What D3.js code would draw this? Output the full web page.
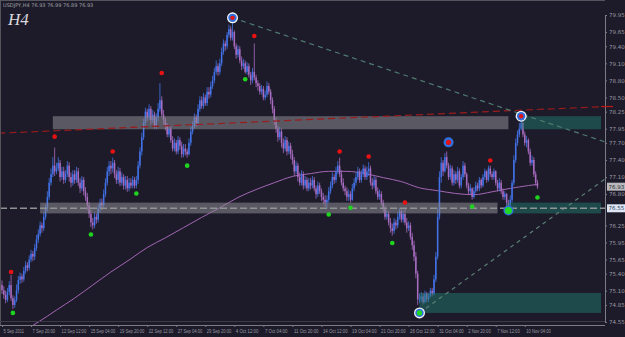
<!DOCTYPE html>
<html>
<head>
<meta charset="utf-8">
<script src="https://cdn.jsdelivr.net/npm/d3@7"></script>
<style>
  body { margin: 0; background: #1d1b29; }
</style>
</head>
<body>
<div id="chart"></div>
<script>
// candle data, H4 bars from 5 Sep 2011
const firstOpen = 75.20
const closes = [
  75.11, 75.03, 74.94, 75.08, 75.20, 74.97, 74.85, 74.94, 75.11, 75.29,
  75.35, 75.30, 75.45, 75.55, 75.50, 75.65, 75.75, 75.70, 75.85, 76.00,
  76.10, 76.25, 76.20, 76.40, 76.55, 76.75, 77.00, 77.15, 77.30, 77.20,
  77.25, 77.35, 77.10, 77.20, 77.05, 77.15, 77.30, 77.10, 77.00, 77.15,
  77.05, 77.20, 77.00, 76.90, 77.05, 76.85, 76.75, 76.60, 76.45, 76.30,
  76.25, 76.40, 76.35, 76.55, 76.65, 76.60, 76.80, 77.00, 77.20, 77.30,
  77.25, 77.35, 77.15, 77.05, 77.20, 77.00, 77.10, 76.95, 77.05, 76.90,
  77.00, 76.95, 77.05, 76.95, 77.05, 77.30, 77.55, 77.80, 78.05, 78.25,
  78.15, 78.30, 78.10, 78.20, 78.00, 78.15, 78.30, 78.45, 78.20, 78.10,
  78.00, 77.85, 77.95, 77.75, 77.60, 77.70, 77.55, 77.75, 77.65, 77.50,
  77.60, 77.55, 77.50, 77.70, 77.90, 78.00, 78.15, 78.05, 78.30, 78.45,
  78.35, 78.50, 78.40, 78.60, 78.55, 78.70, 78.80, 78.95, 79.05, 78.95,
  79.10, 79.30, 79.45, 79.40, 79.60, 79.70, 79.55, 79.65, 79.40, 79.25,
  79.35, 79.15, 79.05, 79.10, 78.95, 79.05, 78.90, 78.80, 78.95, 78.85,
  78.75, 78.70, 78.60, 78.65, 78.50, 78.55, 78.70, 78.60, 78.45, 78.30,
  78.10, 77.95, 77.80, 77.90, 77.70, 77.60, 77.75, 77.55, 77.65, 77.50,
  77.40, 77.20, 77.30, 77.10, 77.00, 77.15, 76.95, 77.05, 76.90, 77.00,
  76.95, 77.05, 76.90, 76.80, 76.95, 76.85, 76.75, 76.70, 76.65, 76.70,
  76.85, 76.95, 77.10, 77.05, 77.20, 77.30, 77.15, 77.00, 76.90, 76.85,
  76.75, 76.80, 76.70, 76.90, 77.00, 77.10, 77.20, 77.05, 77.15, 77.25,
  77.10, 77.20, 77.25, 77.00, 76.95, 77.05, 76.85, 76.75, 76.80, 76.65,
  76.55, 76.40, 76.45, 76.30, 76.20, 76.15, 76.30, 76.25, 76.40, 76.50,
  76.35, 76.45, 76.30, 76.20, 76.25, 76.05, 75.90, 75.70, 75.40, 74.95,
  74.95, 75.00, 74.90, 75.05, 74.95, 75.00, 75.10, 75.05, 75.30, 75.70,
  76.40, 77.10, 77.35, 77.20, 77.45, 77.30, 77.10, 77.25, 77.00, 77.15,
  77.05, 77.20, 76.95, 77.10, 77.30, 77.15, 76.95, 76.85, 76.90, 76.75,
  76.85, 76.95, 76.90, 77.05, 76.95, 77.10, 77.20, 77.05, 77.25, 77.15,
  77.10, 77.20, 77.00, 76.90, 77.00, 76.85, 76.75, 76.80, 76.65, 76.60,
  76.70, 77.00, 77.40, 77.70, 77.85, 77.95, 78.05, 77.85, 77.70, 77.75,
  77.55, 77.35, 77.40, 77.15, 77.00, 76.93
]
const highs = [
  75.28, 75.18, 75.10, 75.15, 75.27, 75.38, 75.02, 75.00, 75.21, 75.36,
  75.42, 75.40, 75.52, 75.62, 75.60, 75.72, 75.82, 75.80, 75.92, 76.08,
  76.18, 76.32, 76.30, 76.48, 76.62, 76.85, 77.08, 77.25, 77.45, 77.62,
  77.35, 77.45, 77.40, 77.28, 77.28, 77.22, 77.38, 77.36, 77.18, 77.22,
  77.22, 77.28, 77.26, 77.08, 77.12, 77.10, 76.92, 76.82, 76.66, 76.52,
  76.38, 76.48, 76.46, 76.62, 76.72, 76.72, 76.88, 77.08, 77.28, 77.38,
  77.38, 77.44, 77.40, 77.22, 77.28, 77.26, 77.18, 77.15, 77.12, 77.12,
  77.08, 77.08, 77.12, 77.10, 77.12, 77.38, 77.62, 77.88, 78.12, 78.32,
  78.30, 78.38, 78.35, 78.28, 78.25, 78.22, 78.40, 78.75, 78.52, 78.28,
  78.15, 78.05, 78.02, 78.00, 77.82, 77.78, 77.75, 77.82, 77.80, 77.72,
  77.68, 77.68, 77.60, 77.78, 77.98, 78.08, 78.22, 78.20, 78.38, 78.52,
  78.52, 78.58, 78.55, 78.68, 78.68, 78.78, 78.88, 79.02, 79.15, 79.10,
  79.18, 79.38, 79.52, 79.50, 79.65, 79.78, 79.75, 79.82, 79.68, 79.45,
  79.42, 79.40, 79.22, 79.18, 79.15, 79.12, 79.10, 78.95, 79.02, 79.45,
  78.90, 78.80, 78.75, 78.72, 78.70, 78.62, 78.78, 78.75, 78.65, 78.50,
  78.35, 78.15, 78.00, 77.98, 77.95, 77.78, 77.82, 77.80, 77.72, 77.70,
  77.58, 77.45, 77.38, 77.35, 77.18, 77.22, 77.20, 77.12, 77.10, 77.08,
  77.08, 77.12, 77.10, 76.95, 77.02, 77.00, 76.90, 76.82, 76.78, 76.78,
  76.92, 77.02, 77.18, 77.15, 77.28, 77.38, 77.44, 77.22, 77.08, 76.95,
  76.92, 76.88, 76.85, 76.98, 77.08, 77.18, 77.28, 77.25, 77.22, 77.32,
  77.30, 77.28, 77.36, 77.30, 77.08, 77.12, 77.10, 76.92, 76.88, 76.85,
  76.70, 76.60, 76.52, 76.50, 76.38, 76.28, 76.38, 76.35, 76.48, 76.56,
  76.55, 76.52, 76.54, 76.38, 76.32, 76.30, 76.12, 75.98, 75.78, 75.45,
  75.05, 75.08, 75.06, 75.10, 75.08, 75.06, 75.15, 75.15, 75.38, 75.78,
  76.55, 77.20, 77.45, 77.40, 77.52, 77.55, 77.35, 77.32, 77.30, 77.22,
  77.20, 77.28, 77.25, 77.15, 77.38, 77.35, 77.18, 77.00, 76.98, 76.92,
  76.92, 77.02, 77.00, 77.10, 77.08, 77.15, 77.25, 77.22, 77.30, 77.30,
  77.20, 77.25, 77.22, 77.05, 77.08, 77.05, 76.90, 76.85, 76.82, 76.70,
  76.78, 77.05, 77.48, 77.78, 77.92, 78.05, 78.12, 78.08, 77.90, 77.82,
  77.78, 77.60, 77.48, 77.45, 77.20, 77.05
]
const lows = [
  75.04, 74.96, 74.88, 74.90, 75.02, 74.92, 74.78, 74.80, 74.90, 75.05,
  75.22, 75.24, 75.26, 75.40, 75.44, 75.46, 75.60, 75.62, 75.64, 75.80,
  75.94, 76.05, 76.12, 76.15, 76.35, 76.50, 76.70, 76.95, 77.10, 77.12,
  77.15, 77.20, 77.02, 77.05, 76.98, 77.00, 77.10, 77.02, 76.92, 76.95,
  76.98, 77.00, 76.94, 76.82, 76.85, 76.78, 76.68, 76.52, 76.38, 76.22,
  76.18, 76.20, 76.28, 76.30, 76.48, 76.52, 76.56, 76.75, 76.95, 77.12,
  77.15, 77.18, 77.08, 76.98, 76.98, 76.94, 76.95, 76.88, 76.88, 76.84,
  76.85, 76.90, 76.90, 76.90, 76.90, 76.98, 77.25, 77.48, 77.75, 78.00,
  78.08, 78.10, 78.02, 78.05, 77.95, 77.94, 78.08, 78.25, 78.15, 78.02,
  77.92, 77.80, 77.80, 77.70, 77.55, 77.55, 77.50, 77.50, 77.58, 77.44,
  77.45, 77.48, 77.44, 77.48, 77.65, 77.85, 77.95, 77.98, 78.00, 78.25,
  78.30, 78.30, 78.35, 78.35, 78.48, 78.50, 78.65, 78.75, 78.90, 78.88,
  78.90, 79.05, 79.25, 79.32, 79.35, 79.55, 79.50, 79.50, 79.35, 79.18,
  79.20, 79.10, 78.98, 79.00, 78.92, 78.90, 78.85, 78.72, 78.75, 78.80,
  78.68, 78.62, 78.55, 78.55, 78.45, 78.45, 78.50, 78.55, 78.38, 78.22,
  78.02, 77.88, 77.72, 77.75, 77.62, 77.52, 77.55, 77.48, 77.50, 77.42,
  77.32, 77.12, 77.15, 77.02, 76.95, 76.95, 76.88, 76.90, 76.85, 76.85,
  76.88, 76.90, 76.85, 76.72, 76.75, 76.80, 76.68, 76.62, 76.58, 76.55,
  76.65, 76.80, 76.90, 76.98, 77.00, 77.15, 77.10, 76.95, 76.85, 76.78,
  76.68, 76.68, 76.65, 76.68, 76.85, 76.95, 77.05, 77.00, 77.00, 77.10,
  77.05, 77.05, 77.12, 76.95, 76.88, 76.90, 76.80, 76.70, 76.70, 76.60,
  76.48, 76.35, 76.35, 76.25, 76.12, 76.07, 76.10, 76.18, 76.20, 76.35,
  76.30, 76.30, 76.25, 76.12, 76.15, 76.00, 75.82, 75.62, 75.32, 74.85,
  74.88, 74.90, 74.86, 74.88, 74.90, 74.90, 74.98, 75.00, 75.02, 75.25,
  75.65, 76.35, 77.00, 77.12, 77.18, 77.25, 77.05, 77.05, 76.95, 76.95,
  76.98, 77.00, 76.90, 76.90, 77.05, 77.10, 76.90, 76.80, 76.80, 76.70,
  76.72, 76.82, 76.85, 76.85, 76.90, 76.92, 77.05, 77.00, 77.02, 77.10,
  77.05, 77.05, 76.95, 76.85, 76.85, 76.80, 76.70, 76.70, 76.58, 76.55,
  76.58, 76.65, 76.95, 77.35, 77.65, 77.80, 77.92, 77.80, 77.65, 77.62,
  77.50, 77.30, 77.30, 77.10, 76.95, 76.89
]

// moving average, sampled by bar index
const maBars = [0, 10, 20, 30, 40, 50, 60, 70, 80, 90, 100, 110, 120, 130, 140, 150,
  160, 170, 180, 190, 200, 210, 220, 230, 240, 250, 260, 270, 280, 290, 295]
const maValues = [74.27, 74.37, 74.55, 74.76, 74.97, 75.20, 75.43, 75.64, 75.86, 76.03,
  76.21, 76.39, 76.56, 76.74, 76.88, 77.00, 77.11, 77.16, 77.20, 77.20, 77.16, 77.09,
  77.02, 76.91, 76.86, 76.81, 76.79, 76.84, 76.90, 76.95, 76.97]

// fractal markers [bar, price]
const upFractals = [[5, 75.43], [29, 77.81], [61, 77.55], [88, 78.93], [139, 79.58],
  [186, 77.55], [202, 77.46], [222, 76.65], [269, 77.39]]
const downFractals = [[6, 74.71], [49, 76.09], [74, 76.81], [102, 77.30], [134, 78.82],
  [180, 76.44], [192, 76.56], [215, 75.94], [259, 76.58], [295, 76.74]]

// swing points (big circles)
const swingHighs = [[127, 79.90], [286, 78.17]]
const swingHighsMinor = [[246, 77.71]]
const swingLows = [[230, 74.71]]
const swingLowsMinor = [[279, 76.51]]

// zones [fromBar, toBar, low, high]
const resistZones = [[28, 279, 77.94, 78.17], [21, 273, 76.46, 76.65]]
const activeZones = [[286, 330, 77.94, 78.17], [278, 330, 76.46, 76.65], [230, 330, 74.71, 75.06]]

// lines [bar, price] pairs
const redLine = [[-2, 77.87], [332, 78.34]]
const downTrend = [[127, 79.90], [332, 77.72]]
const upTrend = [[230, 74.71], [332, 77.06]]
const levelPrice = 76.55
const bidPrice = 76.93

const priceTicks = [74.55, 74.85, 75.10, 75.40, 75.65, 75.95, 76.25, 76.80, 77.10,
  77.40, 77.70, 77.95, 78.25, 78.50, 78.80, 79.10, 79.40, 79.65, 79.95]
const timeBars = [0, 16, 32, 48, 64, 80, 96, 112, 128, 144, 160, 176, 192, 208, 224, 240, 256, 272, 288]
const timeLabels = ['5 Sep 2011', '7 Sep 20:00', '12 Sep 12:00', '15 Sep 04:00', '19 Sep 20:00',
  '22 Sep 12:00', '27 Sep 04:00', '29 Sep 20:00', '4 Oct 12:00', '7 Oct 04:00', '11 Oct 20:00',
  '14 Oct 12:00', '19 Oct 04:00', '21 Oct 20:00', '26 Oct 12:00', '31 Oct 04:00', '2 Nov 20:00',
  '7 Nov 12:00', '10 Nov 04:00']

const W = 625, H = 337
const plotRight = 605, plotBottom = 325

const svg = d3.select('#chart').append('svg')
  .attr('width', W)
  .attr('height', H)
  .style('display', 'block')
  .style('background', '#1d1b29')

const x = d3.scaleLinear().domain([0, 330]).range([2, 601])
const y = d3.scaleLinear().domain([74.55, 79.95]).range([322, 15])

svg.append('clipPath').attr('id', 'plot')
  .append('rect').attr('x', 0).attr('y', 0).attr('width', plotRight).attr('height', plotBottom)

const plot = svg.append('g').attr('clip-path', 'url(#plot)')

// build candles
const candles = closes.map((c, i) => ({
  i: i,
  o: i === 0 ? firstOpen : closes[i - 1],
  c: c,
  h: highs[i],
  l: lows[i]
}))

// moving average
plot.append('path')
  .datum(maBars.map((b, k) => [b, maValues[k]]))
  .attr('fill', 'none')
  .attr('stroke', '#a266b4')
  .attr('stroke-width', 1)
  .attr('d', d3.line().x(d => x(d[0])).y(d => y(d[1])).curve(d3.curveMonotoneX))

// candles
const up = '#4373ea', down = '#a86cc0'
plot.append('g').selectAll('line')
  .data(candles)
  .join('line')
  .attr('x1', d => x(d.i)).attr('x2', d => x(d.i))
  .attr('y1', d => y(d.h)).attr('y2', d => y(d.l))
  .attr('stroke', d => d.c >= d.o ? up : down)
  .attr('stroke-width', 0.8)

plot.append('g').selectAll('rect')
  .data(candles)
  .join('rect')
  .attr('x', d => x(d.i) - 0.75)
  .attr('width', 1.5)
  .attr('y', d => y(Math.max(d.o, d.c)))
  .attr('height', d => Math.max(1, Math.abs(y(d.o) - y(d.c))))
  .attr('fill', d => d.c >= d.o ? up : down)

// zones
plot.append('g').selectAll('rect')
  .data(resistZones)
  .join('rect')
  .attr('x', d => x(d[0]))
  .attr('width', d => x(d[1]) - x(d[0]))
  .attr('y', d => y(d[3]))
  .attr('height', d => y(d[2]) - y(d[3]))
  .attr('fill', '#8c8a94')
  .attr('opacity', 0.55)

plot.append('g').selectAll('rect')
  .data(activeZones)
  .join('rect')
  .attr('x', d => x(d[0]))
  .attr('width', d => x(d[1]) - x(d[0]))
  .attr('y', d => y(d[3]))
  .attr('height', d => y(d[2]) - y(d[3]))
  .attr('fill', '#22796f')
  .attr('opacity', 0.5)

// lines
const seg = d3.line().x(d => x(d[0])).y(d => y(d[1]))
plot.append('path').datum(redLine)
  .attr('d', seg).attr('stroke', '#9a1c1c').attr('stroke-width', 1.2)
  .attr('stroke-dasharray', '7,4').attr('fill', 'none')
plot.append('path').datum(downTrend)
  .attr('d', seg).attr('stroke', '#4e7a70').attr('stroke-width', 1.2)
  .attr('stroke-dasharray', '5,4').attr('fill', 'none')
plot.append('path').datum(upTrend)
  .attr('d', seg).attr('stroke', '#5b7f74').attr('stroke-width', 1.2)
  .attr('stroke-dasharray', '4,4').attr('fill', 'none')
plot.append('line')
  .attr('x1', 0).attr('x2', plotRight)
  .attr('y1', y(levelPrice)).attr('y2', y(levelPrice))
  .attr('stroke', '#8e9494').attr('stroke-width', 1.6)
  .attr('stroke-dasharray', '7,3')

// fractal dots
plot.append('g').selectAll('circle')
  .data(upFractals)
  .join('circle')
  .attr('cx', d => x(d[0])).attr('cy', d => y(d[1]))
  .attr('r', 2.3).attr('fill', '#e81212')
plot.append('g').selectAll('circle')
  .data(downFractals)
  .join('circle')
  .attr('cx', d => x(d[0])).attr('cy', d => y(d[1]))
  .attr('r', 2.3).attr('fill', '#1fd41f')

// swing circles
function swing(data, ring, inner, dot, rDot) {
  const g = plot.append('g').selectAll('g')
    .data(data)
    .join('g')
    .attr('transform', d => 'translate(' + x(d[0]) + ',' + y(d[1]) + ')')
  if (ring) g.append('circle').attr('r', 5.5).attr('fill', ring)
  g.append('circle').attr('r', ring ? 4.2 : 5).attr('fill', inner)
  g.append('circle').attr('r', rDot).attr('fill', dot)
}
swing(swingHighs, '#f4f4f4', '#2f6fe0', '#e41414', 2.2)
swing(swingHighsMinor, null, '#2f6fe0', '#e41414', 2.6)
swing(swingLows, '#f4f4f4', '#2f6fe0', '#22d822', 2.6)
swing(swingLowsMinor, null, '#2f6fe0', '#22d822', 3.6)

// frame
svg.append('line').attr('x1', 0.5).attr('x2', 0.5).attr('y1', 0).attr('y2', plotBottom)
  .attr('stroke', '#55545c')
svg.append('line').attr('x1', 0).attr('x2', plotRight).attr('y1', 0.5).attr('y2', 0.5)
  .attr('stroke', '#55545c')

// price axis
const yAxis = d3.axisRight(y).tickValues(priceTicks).tickFormat(d3.format('.2f')).tickSize(2).tickPadding(2)
const ya = svg.append('g')
  .attr('class', 'axis y-axis')
  .attr('transform', 'translate(' + plotRight + ',0)')
  .call(yAxis)
ya.select('.domain').attr('stroke', '#7c7c84')
ya.selectAll('.tick line').attr('stroke', '#7c7c84')
ya.selectAll('text').attr('fill', '#9a9aa2').attr('font-size', '5.5px')
  .attr('font-family', 'DejaVu Sans, sans-serif')

// time axis
const xAxis = d3.axisBottom(x).tickValues(timeBars).tickFormat((d, k) => timeLabels[k]).tickSize(2).tickPadding(2)
const xa = svg.append('g')
  .attr('class', 'axis x-axis')
  .attr('transform', 'translate(0,' + plotBottom + ')')
  .call(xAxis)
xa.select('.domain').attr('stroke', '#7c7c84').attr('d', 'M0,0.5H' + plotRight)
xa.selectAll('.tick line').attr('stroke', '#7c7c84')
xa.selectAll('text').attr('fill', '#9a9aa2').attr('font-size', '5px')
  .attr('font-family', 'Liberation Sans, sans-serif').attr('text-anchor', 'start').attr('dx', 1)
  .attr('textLength', (d, k) => timeLabels[k].length * 2.05)
  .attr('lengthAdjust', 'spacingAndGlyphs')
svg.append('line').attr('x1', 0).attr('x2', plotRight).attr('y1', plotBottom - 3.5).attr('y2', plotBottom - 3.5)
  .attr('stroke', '#3c3b44')

// red marker on axis for the red line
svg.append('line').attr('x1', plotRight - 4).attr('x2', plotRight + 8)
  .attr('y1', y(redLine[1][1])).attr('y2', y(redLine[1][1]))
  .attr('stroke', '#c01818').attr('stroke-width', 1.2)

// price boxes on axis
function priceBox(p, bg, fg) {
  const g = svg.append('g').attr('transform', 'translate(' + (plotRight + 2) + ',' + y(p) + ')')
  g.append('rect').attr('x', 0).attr('y', -4).attr('width', 18).attr('height', 8).attr('fill', bg)
  g.append('text').attr('x', 1.5).attr('y', 2).text(p.toFixed(2))
    .attr('font-size', '5.5px').attr('font-family', 'DejaVu Sans, sans-serif').attr('fill', fg)
}
priceBox(bidPrice, '#b8b8bc', '#2a2a30')
priceBox(levelPrice, '#dde6f6', '#303a50')

// header
svg.append('text').attr('x', 3).attr('y', 7)
  .text('USDJPY,H4  76.93 76.99 76.89 76.93')
  .attr('font-size', '5px').attr('font-family', 'DejaVu Sans, sans-serif').attr('fill', '#a0a0a8')
svg.append('text').attr('x', 8).attr('y', 25)
  .text('H4')
  .attr('font-size', '17px').attr('font-style', 'italic')
  .attr('font-family', 'Liberation Serif, serif').attr('fill', '#d8d8dc')
</script>
</body>
</html>
